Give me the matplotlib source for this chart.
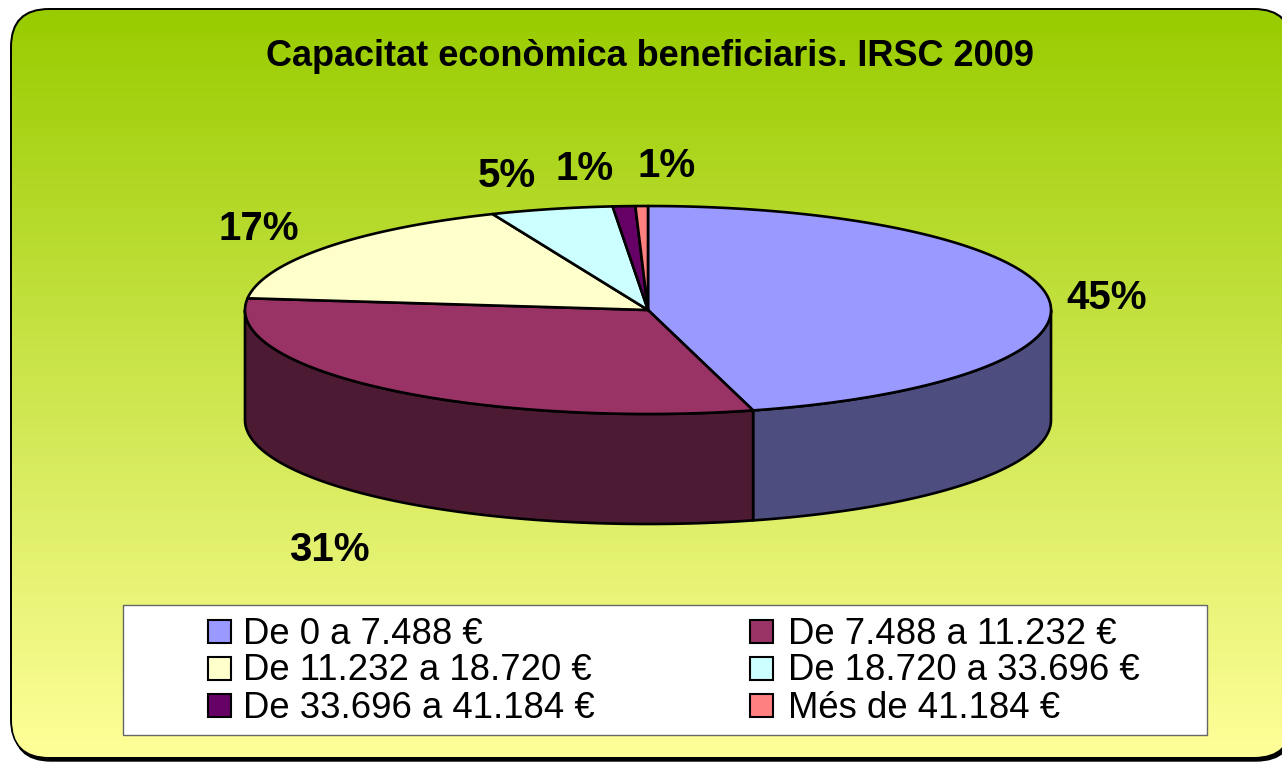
import numpy as np
import matplotlib
matplotlib.use("Agg")
import matplotlib.pyplot as plt
from matplotlib.patches import FancyBboxPatch, Polygon, Rectangle

title = "Capacitat econòmica beneficiaris. IRSC 2009"
categories = ["De 0 a 7.488 €", "De 7.488 a 11.232 €", "De 11.232 a 18.720 €",
              "De 18.720 a 33.696 €", "De 33.696 a 41.184 €", "Més de 41.184 €"]
# shares read from the slice boundaries
values = [45.8, 31.0, 16.9, 4.9, 0.9, 0.5]
labels = ["45%", "31%", "17%", "5%", "1%", "1%"]
colors = ["#9999FF", "#993366", "#FFFFCC", "#CCFFFF", "#660066", "#FF8080"]
side_colors = ["#4D4D80", "#4D1A33", "#808066", "#668080", "#330033", "#804040"]
label_pos = [(1107, 298), (329, 550), (259, 229), (507, 176), (585, 169), (667, 166)]

W, H = 1282, 762
CX, CY, RX, RY, DEPTH = 648, 310, 403, 104, 110

plt.rcParams["font.family"] = ["Liberation Sans", "DejaVu Sans"]


def rim(a):
    # a is clockwise from the top, in radians
    return np.column_stack([CX + RX * np.sin(a), CY - RY * np.cos(a)])


fig = plt.figure(figsize=(W / 100, H / 100), dpi=100, facecolor="white")
ax = fig.add_axes([0, 0, 1, 1])
ax.set_xlim(0, W)
ax.set_ylim(H, 0)
ax.axis("off")

# black shapes first (shadow, outline), gradient goes on top clipped to the inside
ax.add_patch(FancyBboxPatch((13, 12), 1281, 749, boxstyle="round,pad=0,rounding_size=38",
                            fc="black", ec="black", lw=1, zorder=0.5))
ax.add_patch(FancyBboxPatch((10, 8), 1283, 750, boxstyle="round,pad=0,rounding_size=39",
                            fc="black", ec="none", zorder=0.6))
panel = FancyBboxPatch((12, 10), 1279, 747, boxstyle="round,pad=0,rounding_size=37",
                       fc="none", ec="none", zorder=0.7)
ax.add_patch(panel)
grad = np.linspace(0, 1, 256).reshape(-1, 1)
top = np.array([0x99, 0xCC, 0x00]) / 255
bottom = np.array([0xFF, 0xFF, 0x99]) / 255
img = top + (bottom - top) * grad[..., None]
im = ax.imshow(img, extent=(12, 1291, 757, 10), aspect="auto", zorder=1)
im.set_clip_path(panel)
ax.set_xlim(0, W)
ax.set_ylim(H, 0)

ax.text(650, 56, title, fontsize=26, fontweight="bold", ha="center", va="center", zorder=6)

edges = np.cumsum([0] + values) / sum(values) * 2 * np.pi

# side walls, only the front half of the rim shows
for i in range(len(values)):
    a0 = max(edges[i], np.pi / 2)
    a1 = min(edges[i + 1], 3 * np.pi / 2)
    if a1 <= a0:
        continue
    pts = rim(np.linspace(a0, a1, 120))
    low = pts[::-1] + [0, DEPTH]
    ax.add_patch(Polygon(np.vstack([pts, low]), closed=True, fc=side_colors[i],
                         ec="black", lw=1.9, joinstyle="round", zorder=3))

# top face
for i in range(len(values)):
    pts = rim(np.linspace(edges[i], edges[i + 1], 200))
    ax.add_patch(Polygon(np.vstack([[CX, CY], pts]), closed=True, fc=colors[i],
                         ec="black", lw=1.9, joinstyle="round", zorder=4))

for s, (x, y) in zip(labels, label_pos):
    ax.text(x, y, s, fontsize=29, fontweight="bold", ha="center", va="center", zorder=6)

# legend
ax.add_patch(Rectangle((123, 605), 1084, 130, fc="white", ec="#666666", lw=1.0, zorder=5))
col_x = [208, 750]
text_x = [243, 788]
row_y = [631, 668, 705]
for i, name in enumerate(categories):
    x = col_x[i % 2]
    y = row_y[i // 2]
    ax.add_patch(Rectangle((x, y - 11.5), 23, 23, fc=colors[i], ec="black", lw=1.5, zorder=6))
    ax.text(text_x[i % 2], y + 3, name, fontsize=26.3, ha="left", va="center", zorder=6)

fig.savefig("out.png", dpi=100)
